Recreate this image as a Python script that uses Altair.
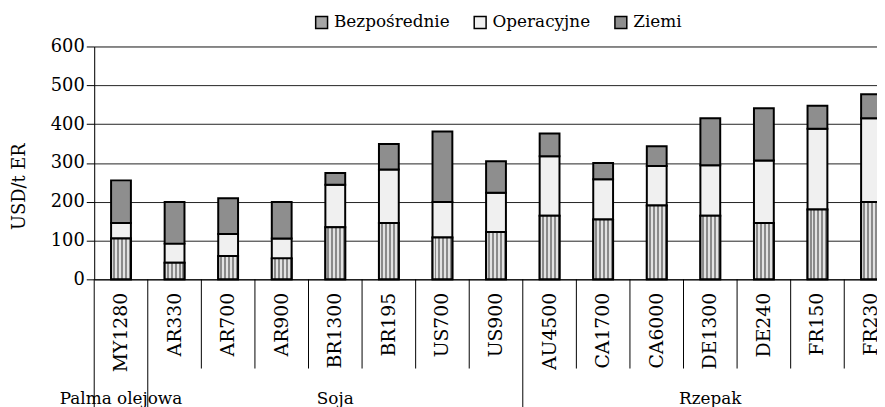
import altair as alt
import pandas as pd

categories = ["MY1280", "AR330", "AR700", "AR900", "BR1300", "BR195", "US700", "US900",
              "AU4500", "CA1700", "CA6000", "DE1300", "DE240", "FR150", "FR230"]
groups = ["Palma olejowa"] + ["Soja"] * 7 + ["Rzepak"] * 7
series = ["Bezpośrednie", "Operacyjne", "Ziemi"]
bezposrednie = [105, 43, 60, 54, 134, 145, 108, 122, 164, 154, 190, 164, 145, 180, 199]
operacyjne = [40, 49, 57, 51, 110, 138, 91, 101, 153, 104, 102, 130, 161, 208, 216]
ziemi = [110, 107, 92, 94, 30, 66, 182, 81, 59, 42, 51, 121, 135, 59, 62]
y_ticks = [0, 100, 200, 300, 400, 500, 600]

FONT = "DejaVu Serif"

rows = []
for i, cat in enumerate(categories):
    start = 0
    for s, vals in zip(series, [bezposrednie, operacyjne, ziemi]):
        rows.append({"kategoria": cat, "grupa": groups[i], "seria": s,
                     "start": start, "end": start + vals[i]})
        start += vals[i]
df = pd.DataFrame(rows)

# separators: first category of each group reaches the bottom
sep_rows = []
for i, cat in enumerate(categories):
    first = i == 0 or groups[i] != groups[i - 1]
    sep_rows.append({"kategoria": cat, "first": first})
sep = pd.DataFrame(sep_rows)

# group labels, placed on the middle category of each group
seen = []
for g in groups:
    if g not in seen:
        seen.append(g)
lab_rows = []
for g in seen:
    cats = [c for c, gg in zip(categories, groups) if gg == g]
    lab_rows.append({"kategoria": cats[len(cats) // 2], "grupa": g})
labs = pd.DataFrame(lab_rows)

xscale = alt.Scale(domain=categories, range=[0, 811], paddingInner=0, paddingOuter=0)
yscale = alt.Scale(domain=[0, 600], nice=False)

xaxis = alt.Axis(title=None, labelAngle=-90, ticks=False, labelPadding=13,
                 labelFont=FONT, labelFontSize=19, labelColor="black",
                 domainColor="black", domainWidth=1, grid=False, labelOverlap=False)
yaxis = alt.Axis(values=y_ticks, tickSize=8, tickColor="black", labelPadding=2,
                 labelFont=FONT, labelFontSize=18, labelColor="black", labelOverlap=False,
                 grid=True, gridColor="#222222", gridWidth=1,
                 domainColor="black", title="USD/t ER", titleFont=FONT,
                 titleFontSize=18, titleFontWeight="normal", titleColor="black",
                 titleX=-75, titleY=141, titleAngle=270, titleAlign="center",
                 titleBaseline="middle")

colors = ["#a6a6a6", "#f0f0f0", "#8e8e8e"]

bars = alt.Chart(df).mark_bar(width=alt.RelativeBandSize(0.37), stroke="black",
                              strokeWidth=2).encode(
    x=alt.X("kategoria:N", scale=xscale, axis=xaxis),
    y=alt.Y("start:Q", scale=yscale, axis=yaxis),
    y2="end:Q",
    color=alt.Color("seria:N", scale=alt.Scale(domain=series, range=colors),
                    legend=alt.Legend(title=None, orient="none", direction="horizontal",
                                      legendX=221, legendY=-33, padding=0,
                                      symbolType="square", symbolSize=144,
                                      symbolStrokeColor="black", symbolStrokeWidth=1.5,
                                      symbolOpacity=1,
                                      labelFont=FONT, labelFontSize=17, labelColor="black",
                                      labelOffset=4, columnPadding=21)),
)

light, dark = "#e2e2e2", "#8a8a8a"
stops = []
n = 10
for i in range(n):
    c = light if i % 2 == 0 else dark
    stops.append(alt.GradientStop(offset=i / n, color=c))
    stops.append(alt.GradientStop(offset=(i + 1) / n, color=c))
stripe = alt.LinearGradient(gradient="linear", stops=stops, x1=0, x2=1, y1=0, y2=0)

stripes = alt.Chart(df[df["seria"] == "Bezpośrednie"]).mark_bar(
    width=alt.RelativeBandSize(0.37), fill=stripe, stroke="black", strokeWidth=2
).encode(
    x=alt.X("kategoria:N", scale=xscale, axis=xaxis),
    y=alt.Y("start:Q", scale=yscale, axis=yaxis),
    y2="end:Q",
)

seps_short = alt.Chart(sep[~sep["first"]]).mark_rule(color="black", strokeWidth=1).encode(
    x=alt.X("kategoria:N", scale=xscale, bandPosition=0, axis=xaxis),
    y=alt.value(235), y2=alt.value(325),
)
seps_long = alt.Chart(sep[sep["first"]]).mark_rule(color="black", strokeWidth=1).encode(
    x=alt.X("kategoria:N", scale=xscale, bandPosition=0, axis=xaxis),
    y=alt.value(235), y2=alt.value(370),
)

group_text = alt.Chart(labs).mark_text(font=FONT, fontSize=17, color="black",
                                       baseline="alphabetic", align="center").encode(
    x=alt.X("kategoria:N", scale=xscale, axis=xaxis),
    y=alt.value(361),
    text="grupa:N",
)

chart = alt.layer(bars, stripes, seps_short, seps_long, group_text).properties(
    width=790, height=235,
    autosize=alt.AutoSizeParams(type="none"),
    padding={"left": 87, "top": 37, "right": 0, "bottom": 127},
).configure_view(strokeWidth=0).configure(font=FONT, background="white")

chart.save("out.html", embed_options={"renderer": "svg", "actions": False})
